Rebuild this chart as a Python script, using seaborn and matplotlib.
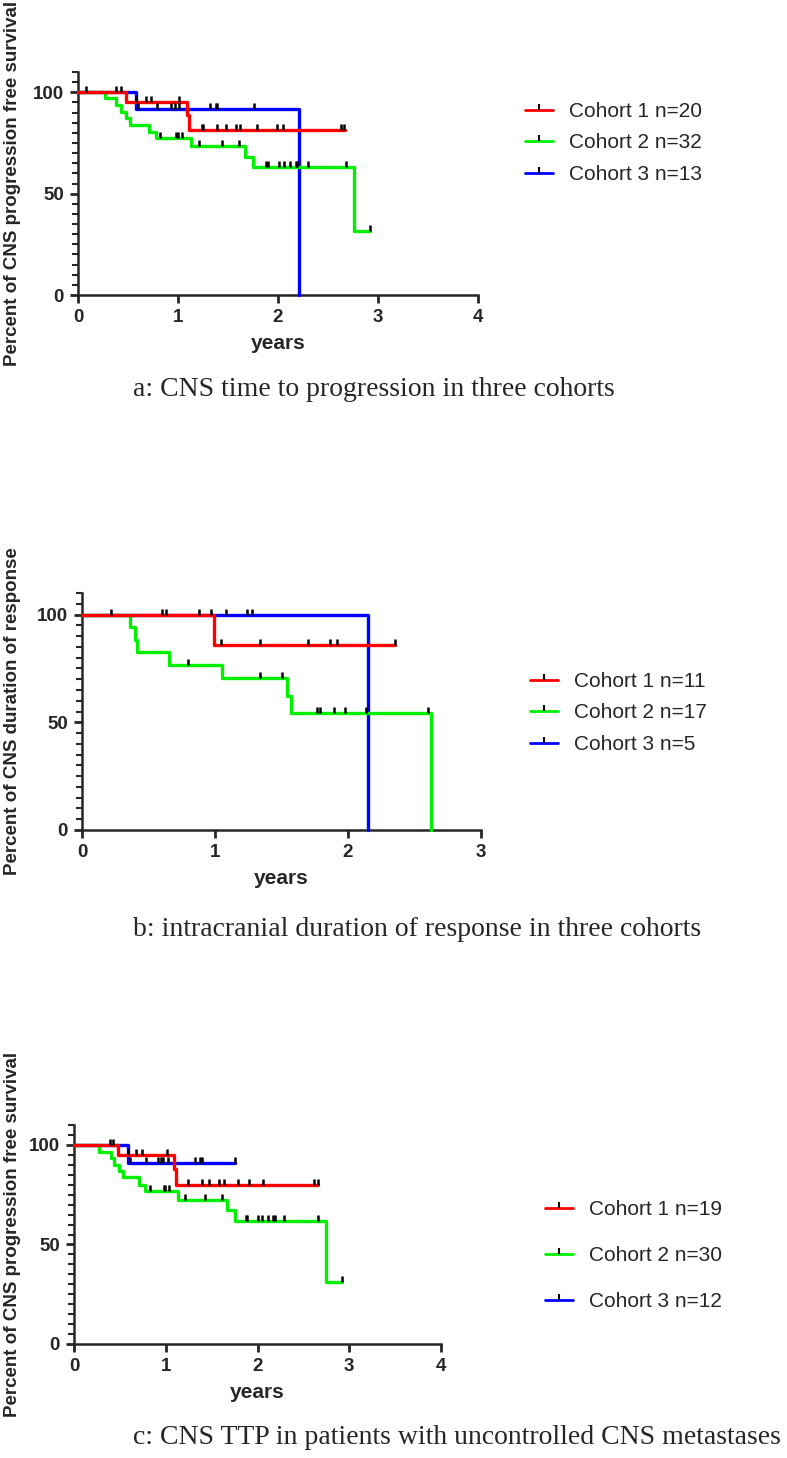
import numpy as np
import pandas as pd
import matplotlib
matplotlib.use('Agg')
import matplotlib.pyplot as plt
from matplotlib.lines import Line2D
import seaborn as sns

# Panel a: CNS time to progression (step times in years, survival in %)
a_t1 = [0, 0.48, 1.085, 1.11, 2.67]
a_s1 = [100, 95.1, 88.6, 81.3, 81.3]
a_c1 = [0.08, 0.38, 0.43, 0.58, 0.68, 0.73, 1.01, 1.235, 1.245, 1.39, 1.475,
        1.58, 1.62, 1.79, 1.99, 2.05, 2.63, 2.66]
a_t2 = [0, 0.27, 0.383, 0.433, 0.483, 0.517, 0.71, 0.777, 1.128, 1.67, 1.747, 2.756, 2.92]
a_s2 = [100, 97.1, 93.5, 90.2, 87.3, 84.0, 80.5, 77.6, 73.6, 68.3, 63.1, 31.5, 31.5]
a_c2 = [0.82, 0.98, 1.0, 1.04, 1.21, 1.435, 1.61, 1.88, 1.895, 2.01, 2.06, 2.12,
        2.18, 2.19, 2.295, 2.68, 2.92]
a_t3 = [0, 0.577, 2.205]
a_s3 = [100, 91.9, 0]
a_c3 = [0.6, 0.785, 0.925, 0.968, 1.01, 1.32, 1.38, 1.39, 1.76]

# Panel b: intracranial duration of response
b_t1 = [0, 0.99, 2.35]
b_s1 = [100, 85.7, 85.7]
b_c1 = [0.215, 0.6, 0.635, 0.88, 1.045, 1.34, 1.70, 1.865, 1.915, 2.35]
b_t2 = [0, 0.36, 0.40, 0.415, 0.657, 1.05, 1.54, 1.57, 2.625]
b_s2 = [100, 94.1, 88.2, 82.4, 76.5, 70.6, 62.4, 54.3, 0]
b_c2 = [0.80, 1.34, 1.505, 1.77, 1.79, 1.895, 1.98, 2.135, 2.60]
b_t3 = [0, 2.15]
b_s3 = [100, 0]
b_c3 = [0.97, 1.08, 1.24, 1.275]

# Panel c: CNS TTP, uncontrolled CNS metastases
c_t1 = [0, 0.48, 1.09, 1.107, 2.66]
c_s1 = [100, 94.9, 87.9, 80.0, 80.0]
c_c1 = [0.39, 0.43, 0.585, 0.68, 0.74, 1.01, 1.24, 1.39, 1.47, 1.58, 1.63, 1.79,
        1.91, 2.06, 2.62, 2.66]
c_t2 = [0, 0.276, 0.40, 0.44, 0.49, 0.53, 0.71, 0.77, 1.136, 1.67, 1.754, 2.745, 2.92]
c_s2 = [100, 96.6, 93.3, 89.9, 87.0, 83.7, 79.8, 76.6, 72.2, 67.2, 61.8, 31.0, 31.0]
c_c2 = [0.83, 0.98, 0.99, 1.04, 1.21, 1.43, 1.61, 1.87, 1.89, 2.01, 2.05, 2.11,
        2.17, 2.19, 2.29, 2.66, 2.92]
c_t3 = [0, 0.585, 1.76]
c_s3 = [100, 91.1, 91.1]
c_c3 = [0.61, 0.785, 0.92, 0.945, 0.97, 1.02, 1.32, 1.37, 1.40, 1.76]

labels_a = ['Cohort 1 n=20', 'Cohort 2 n=32', 'Cohort 3 n=13']
labels_b = ['Cohort 1 n=11', 'Cohort 2 n=17', 'Cohort 3 n=5']
labels_c = ['Cohort 1 n=19', 'Cohort 2 n=30', 'Cohort 3 n=12']
colors = ['#ff0000', '#00f000', '#0000ff']

sns.set_style('ticks')
plt.rcParams['font.family'] = ['Liberation Sans', 'DejaVu Sans']

W, H = 787, 1458
fig = plt.figure(figsize=(W / 100, H / 100), dpi=100)

tick_marker = [(0, 0), (0, 1)]


def px_axes(x0, x1, ytop, ybot):
    return fig.add_axes([x0 / W, 1 - ybot / H, (x1 - x0) / W, (ybot - ytop) / H])


def km_panel(ax, curves, xmax, ylabel, ylab_x, labels, leg_xy, leg_gap, title, title_y):
    # blue, green, then red so red sits on top
    for idx in [2, 1, 0]:
        t, s, cens = curves[idx]
        df = pd.DataFrame({'years': t, 'pct': s})
        sns.lineplot(data=df, x='years', y='pct', ax=ax, color=colors[idx],
                     drawstyle='steps-post', estimator=None, sort=False,
                     lw=2.4, clip_on=False, zorder=3 + (2 - idx))
        t_arr = np.array(t)
        s_arr = np.array(s)
        cy = s_arr[np.searchsorted(t_arr, cens, side='right') - 1]
        ax.plot(cens, cy, ls='none', marker=tick_marker, ms=9, mec='black',
                mew=1.8, clip_on=False, zorder=6)
    ax.set_xlim(0, xmax)
    ax.set_ylim(0, 110)
    ax.set_xticks(range(0, xmax + 1))
    ax.set_yticks([0, 50, 100])
    ax.set_yticks(np.arange(0, 111, 5), minor=True)
    ax.set_xticklabels([str(v) for v in range(0, xmax + 1)], fontweight='bold', fontsize=13.5)
    ax.set_yticklabels(['0', '50', '100'], fontweight='bold', fontsize=13.5)
    ax.tick_params(axis='both', which='major', length=6, width=2, pad=4)
    ax.tick_params(axis='y', which='minor', length=4, width=1.5)
    sns.despine(ax=ax)
    for sp in ['left', 'bottom']:
        ax.spines[sp].set_linewidth(1.8)
    ax.set_xlabel('years', fontweight='bold', fontsize=15, labelpad=6)
    ax.set_ylabel(ylabel, fontweight='bold', fontsize=13.5)
    pos = ax.get_position()
    ax.yaxis.set_label_coords((ylab_x / W - pos.x0) / pos.width, 0.5)
    handles = [Line2D([], [], color=colors[i], lw=2, marker=tick_marker, ms=9,
                      mec='black', mew=1.5) for i in range(3)]
    ax.legend(handles, labels, loc='upper left',
              bbox_to_anchor=(leg_xy[0] / W, 1 - leg_xy[1] / H),
              bbox_transform=fig.transFigure, frameon=False, fontsize=15,
              handlelength=1.35, handletextpad=0.75, labelspacing=leg_gap,
              borderpad=0, borderaxespad=0, numpoints=1)
    fig.text(133 / W, 1 - title_y / H, title, ha='left', va='center', fontsize=20,
             family=['Liberation Serif', 'DejaVu Serif'])


ax_a = px_axes(78, 478, 72, 295)
km_panel(ax_a, [(a_t1, a_s1, a_c1), (a_t2, a_s2, a_c2), (a_t3, a_s3, a_c3)], 4,
         'Percent of CNS progression free survival', 21, labels_a, (525, 102), 0.6,
         'a: CNS time to progression in three cohorts', 390)

ax_b = px_axes(82, 481, 593, 830)
km_panel(ax_b, [(b_t1, b_s1, b_c1), (b_t2, b_s2, b_c2), (b_t3, b_s3, b_c3)], 3,
         'Percent of CNS duration of response', 21, labels_b, (530, 672), 0.6,
         'b: intracranial duration of response in three cohorts', 930)

ax_c = px_axes(74, 441, 1125, 1344)
km_panel(ax_c, [(c_t1, c_s1, c_c1), (c_t2, c_s2, c_c2), (c_t3, c_s3, c_c3)], 4,
         'Percent of CNS progression free survival', 21, labels_c, (545, 1200), 1.3,
         'c: CNS TTP in patients with uncontrolled CNS metastases', 1437)

fig.savefig('out.png', dpi=100)
